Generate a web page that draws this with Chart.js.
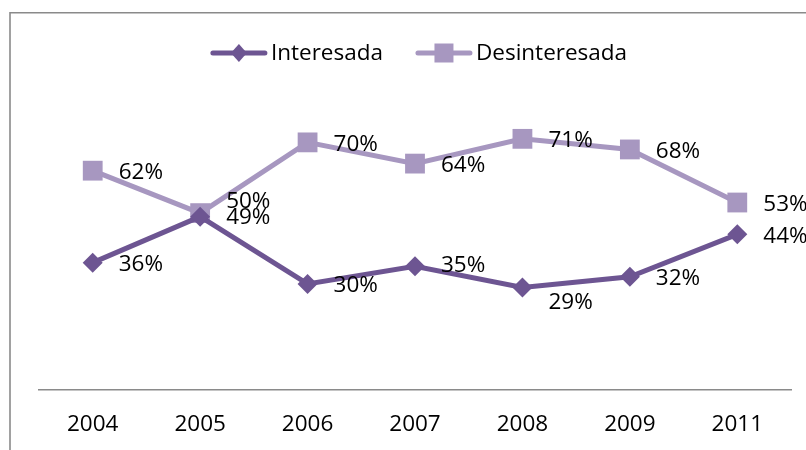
<!DOCTYPE html>
<html>
<head>
<meta charset="utf-8">
<script src="https://cdn.jsdelivr.net/npm/chart.js"></script>
<style>
    html, body { margin: 0; padding: 0; background: #fff; }
    canvas { display: block; }
</style>
</head>
<body>
<canvas id="chart" width="806" height="450"></canvas>
<script>
const years = ['2004', '2005', '2006', '2007', '2008', '2009', '2011'];
const interesada = [36, 49, 30, 35, 29, 32, 44];
const desinteresada = [62, 50, 70, 64, 71, 68, 53];
const seriesNames = ['Interesada', 'Desinteresada'];

// small vertical nudges where the labels were pushed apart in the original
const nudgeInteresada = [0, -1, 0, -3, 13, 0, 0];
const nudgeDesinteresada = [0, -14, 0, 0, 0, 0, 0];

const darkPurple = '#6d5592';
const lightPurple = '#a797c0';
const fontFamily = '"Open Sans", Lato, sans-serif';
const fontSize = 22.5;

// gray frame like the office chart border
const framePlugin = {
    id: 'frame',
    beforeDraw(chart) {
        const ctx = chart.ctx;
        ctx.save();
        ctx.strokeStyle = '#8a8a8a';
        ctx.lineWidth = 1.6;
        ctx.beginPath();
        ctx.moveTo(10, chart.height);
        ctx.lineTo(10, 12.8);
        ctx.lineTo(chart.width, 12.8);
        ctx.stroke();
        ctx.restore();
    }
};

// value labels to the right of every point
const labelPlugin = {
    id: 'valueLabels',
    afterDatasetsDraw(chart) {
        const ctx = chart.ctx;
        const nudges = [nudgeInteresada, nudgeDesinteresada];
        ctx.save();
        ctx.font = fontSize + 'px ' + fontFamily;
        ctx.fillStyle = '#000';
        ctx.textAlign = 'left';
        ctx.textBaseline = 'middle';
        chart.data.datasets.forEach((ds, i) => {
            const meta = chart.getDatasetMeta(i);
            meta.data.forEach((pt, j) => {
                ctx.fillText(ds.data[j] + '%', pt.x + 26, pt.y + 2 + nudges[i][j]);
            });
        });
        ctx.restore();
    }
};

// legend with line + marker swatches
const legendPlugin = {
    id: 'lineLegend',
    afterDraw(chart) {
        const ctx = chart.ctx;
        ctx.save();
        ctx.font = fontSize + 'px ' + fontFamily;
        const swatch = 56, gapText = 4, gapItem = 33;
        const widths = seriesNames.map(n => ctx.measureText(n).width);
        const total = widths.reduce((a, b) => a + b, 0) + seriesNames.length * (swatch + gapText) + gapItem;
        const area = chart.chartArea;
        let x = (area.left + area.right) / 2 + 4 - total / 2;
        const y = 53;
        chart.data.datasets.forEach((ds, i) => {
            ctx.strokeStyle = ds.borderColor;
            ctx.lineWidth = 5;
            ctx.lineCap = 'round';
            ctx.beginPath();
            ctx.moveTo(x + 2, y);
            ctx.lineTo(x + swatch - 2, y);
            ctx.stroke();
            ctx.fillStyle = ds.borderColor;
            const cx = x + swatch / 2;
            ctx.beginPath();
            if (i === 0) {
                ctx.moveTo(cx - 8, y);
                ctx.lineTo(cx, y - 9);
                ctx.lineTo(cx + 8, y);
                ctx.lineTo(cx, y + 9);
                ctx.closePath();
            } else {
                ctx.rect(cx - 9.5, y - 9.5, 19, 19);
            }
            ctx.fill();
            ctx.fillStyle = '#000';
            ctx.textAlign = 'left';
            ctx.textBaseline = 'middle';
            ctx.fillText(seriesNames[i], x + swatch + gapText, y + 1);
            x += swatch + gapText + widths[i] + gapItem;
        });
        ctx.restore();
    }
};

const ctx = document.getElementById('chart').getContext('2d');
new Chart(ctx, {
    type: 'line',
    data: {
        labels: years,
        datasets: [{
            label: seriesNames[0],
            data: interesada,
            borderColor: darkPurple,
            backgroundColor: darkPurple,
            borderWidth: 5,
            pointStyle: 'rectRot',
            pointRadius: 10,
            pointBorderWidth: 0,
            tension: 0
        }, {
            label: seriesNames[1],
            data: desinteresada,
            borderColor: lightPurple,
            backgroundColor: lightPurple,
            borderWidth: 5,
            pointStyle: 'rect',
            pointRadius: 14,
            pointBorderWidth: 0,
            tension: 0
        }]
    },
    options: {
        responsive: false,
        animation: false,
        layout: { padding: { left: 39, right: 15, top: 107, bottom: 12 } },
        plugins: {
            legend: { display: false },
            tooltip: { enabled: false }
        },
        scales: {
            x: {
                offset: true,
                grid: { display: false, drawTicks: false },
                border: { display: true, color: '#8a8a8a', width: 1.6 },
                ticks: {
                    color: '#000',
                    padding: 21,
                    font: { family: fontFamily, size: fontSize }
                },
                afterFit(scale) { scale.height = 48; }
            },
            y: {
                display: false,
                min: 0,
                max: 80
            }
        }
    },
    plugins: [framePlugin, labelPlugin, legendPlugin]
});
</script>
</body>
</html>
